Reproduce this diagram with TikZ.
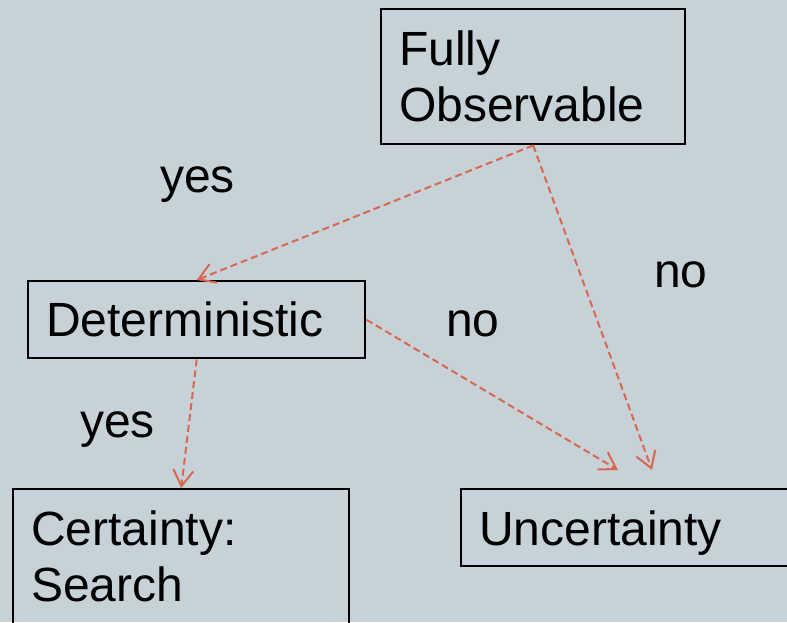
\documentclass[tikz,border=0pt]{standalone}
\usepackage{fontspec}
\setmainfont{Liberation Sans}
\usetikzlibrary{arrows.meta}
\definecolor{slate bg}{HTML}{C6D1D8}
\definecolor{arrow red}{HTML}{DA684E}
\begin{document}
\begin{tikzpicture}[x=1pt,y=-1pt]
\tikzstyle{box node}=[rectangle,draw,line width=2.4pt,anchor=north west,align=left,inner xsep=18pt,inner ysep=0pt,font=\fontsize{48}{56}\selectfont]
\tikzset{
	label node/.style={anchor=base west,inner sep=0pt,font=\fontsize{48}{56}\selectfont},
	dash arrow/.style={draw=arrow red,line width=2pt,dash pattern=on 7pt off 4pt,-{Straight Barb[length=16pt,width=20pt]}}
}
\clip (0,0) rectangle (787,622);
\fill[slate bg] (0,0) rectangle (787,622);
% boxes
\node[box node,minimum width=304pt,minimum height=135pt,text width=268pt] (fully) at (380,8) {Fully\\Observable};
\node[box node,minimum width=337pt,minimum height=77pt,text width=301pt] (determ) at (27,280) {Deterministic};
\node[box node,minimum width=336pt,minimum height=135pt,text width=300pt] (certain) at (12,488) {Certainty:\\Search};
\node[box node,minimum width=360pt,minimum height=77pt,text width=324pt,text depth=0pt] (uncertain) at (460,488) {Uncertainty};
% free arrow ends above Uncertainty
\coordinate (tip det) at (618,470);
\coordinate (tip obs) at (652,470);
% arrows
\draw[dash arrow] (fully.south) -- (determ.north);
\draw[dash arrow] (fully.south) -- (tip obs);
\draw[dash arrow] (determ.east) -- (tip det);
\draw[dash arrow] (determ.south) -- (certain.north);
% labels
\node[label node] (yes obs) at (160,192) {yes};
\node[label node] (no obs) at (654,287) {no};
\node[label node] (no det) at (446,336) {no};
\node[label node] (yes det) at (80,437) {yes};
\end{tikzpicture}
\end{document}
